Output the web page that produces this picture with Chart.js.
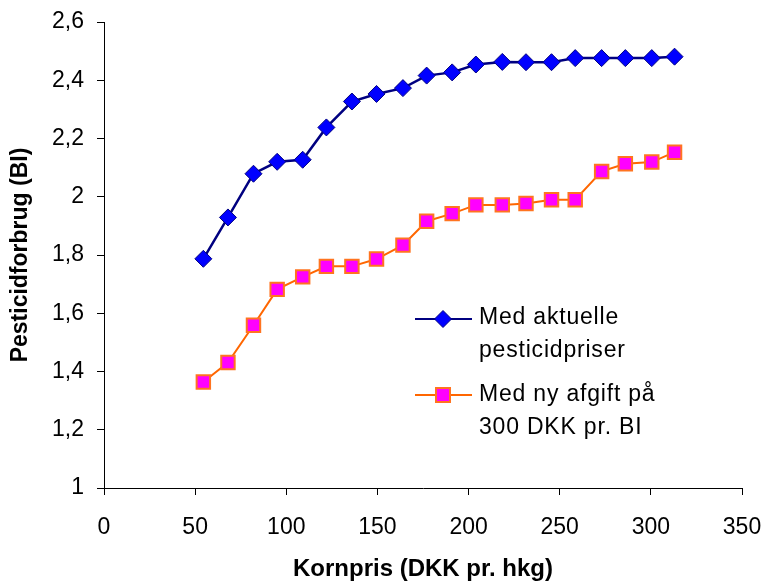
<!DOCTYPE html>
<html>
<head>
<meta charset="utf-8">
<script src="https://cdn.jsdelivr.net/npm/chart.js@4.4.0/dist/chart.umd.min.js"></script>
<style>
  html, body { margin: 0; padding: 0; background: #fff; }
  #wrap { width: 774px; height: 585px; position: relative; }
</style>
</head>
<body>
<div id="wrap"><canvas id="chart" width="774" height="585"></canvas></div>
<script>
// Kornpris (DKK pr. hkg)
const kornpris = [54.5, 68, 82, 95, 109, 122, 136, 149.5, 164, 177, 191, 204, 218.5, 231.5, 245.5, 258.5, 273, 286, 300.5, 313];
// Pesticidforbrug (BI)
const aktuelle = [1.787, 1.929, 2.079, 2.12, 2.127, 2.238, 2.327, 2.353, 2.373, 2.416, 2.427, 2.454, 2.463, 2.462, 2.462, 2.476, 2.476, 2.476, 2.476, 2.481];
const afgift   = [1.364, 1.431, 1.559, 1.682, 1.725, 1.761, 1.761, 1.786, 1.834, 1.916, 1.942, 1.972, 1.972, 1.977, 1.990, 1.990, 2.087, 2.113, 2.119, 2.153];

const serieNavne = [["Med aktuelle", "pesticidpriser"], ["Med ny afgift på", "300 DKK pr. BI"]];

const FONT = "'Liberation Sans', Arial, sans-serif";

// punkter som {x, y}
const tilPunkter = (ys) => kornpris.map((x, i) => ({ x: x, y: ys[i] }));

// fast akse-størrelse, ingen ekstra overhæng fra etiketterne
const fastStr = (w, h) => (s) => {
  if (w) s.width = w;
  if (h) s.height = h;
  s.paddingTop = 0; s.paddingBottom = 0; s.paddingLeft = 0; s.paddingRight = 0;
};

// tegner legenden inde i plotområdet (tekst over to linjer)
const legendePlugin = {
  id: 'legende',
  afterDraw(chart) {
    const ctx = chart.ctx;
    const ds = chart.data.datasets;
    const rows = [{ y: 319, t: 324 }, { y: 395, t: 401 }];
    ctx.save();
    ds.forEach((d, i) => {
      const y = rows[i].y;
      ctx.strokeStyle = d.borderColor;
      ctx.lineWidth = 2;
      ctx.beginPath();
      ctx.moveTo(415, y);
      ctx.lineTo(472, y);
      ctx.stroke();
      ctx.fillStyle = d.pointBackgroundColor;
      ctx.strokeStyle = d.pointBorderColor;
      ctx.lineWidth = d.pointBorderWidth;
      ctx.beginPath();
      if (d.pointStyle === 'rectRot') {
        ctx.moveTo(443, y - 8.5); ctx.lineTo(451.5, y); ctx.lineTo(443, y + 8.5); ctx.lineTo(434.5, y);
        ctx.closePath();
      } else {
        ctx.rect(436, y - 7, 14, 14);
      }
      ctx.fill();
      ctx.stroke();
      ctx.fillStyle = '#000';
      ctx.font = '23px ' + FONT;
      if ('letterSpacing' in ctx) ctx.letterSpacing = '0.8px';
      ctx.textBaseline = 'alphabetic';
      ctx.textAlign = 'left';
      serieNavne[i].forEach((linje, j) => ctx.fillText(linje, 479, rows[i].t + j * 33));
    });
    ctx.restore();
  }
};

new Chart(document.getElementById('chart'), {
  type: 'line',
  data: {
    datasets: [
      {
        label: serieNavne[0].join(' '),
        data: tilPunkter(aktuelle),
        borderColor: '#000080',
        borderWidth: 2.5,
        pointStyle: 'rectRot',
        pointRadius: 8.5,
        pointBackgroundColor: '#0000FF',
        pointBorderColor: '#000080',
        pointBorderWidth: 1,
        tension: 0
      },
      {
        label: serieNavne[1].join(' '),
        data: tilPunkter(afgift),
        borderColor: '#FF6600',
        borderWidth: 2,
        pointStyle: 'rect',
        pointRadius: 9.5,
        pointBackgroundColor: '#FF00FF',
        pointBorderColor: '#FF7420',
        pointBorderWidth: 2,
        tension: 0
      }
    ]
  },
  options: {
    responsive: false,
    animation: false,
    layout: { padding: { top: 22, right: 32, left: 0, bottom: 0 } },
    plugins: {
      legend: { display: false },
      tooltip: { enabled: false }
    },
    scales: {
      x: {
        type: 'linear',
        min: 0, max: 350,
        afterFit: fastStr(0, 97),
        grid: { drawOnChartArea: false, drawTicks: true, tickLength: 7, color: '#000', tickColor: '#000' },
        border: { color: '#000', width: 1 },
        ticks: { stepSize: 50, color: '#000', padding: 19, maxRotation: 0, font: { family: FONT, size: 23 } },
        title: { display: true, text: 'Kornpris (DKK pr. hkg)', color: '#000', padding: { bottom: 1 }, font: { family: FONT, size: 24, weight: 'bold' } }
      },
      y: {
        min: 1, max: 2.6,
        afterFit: fastStr(104, 0),
        grid: { drawOnChartArea: false, drawTicks: true, tickLength: 7, color: '#000', tickColor: '#000' },
        border: { color: '#000', width: 1 },
        ticks: {
          stepSize: 0.2, color: '#000', padding: 13,
          font: { family: FONT, size: 23 },
          callback: (v) => String(Math.round(v * 10) / 10).replace('.', ',')
        },
        title: { display: true, text: 'Pesticidforbrug (BI)', color: '#000', padding: { top: 7 }, font: { family: FONT, size: 23, weight: 'bold' } }
      }
    }
  },
  plugins: [legendePlugin]
});
</script>
</body>
</html>
